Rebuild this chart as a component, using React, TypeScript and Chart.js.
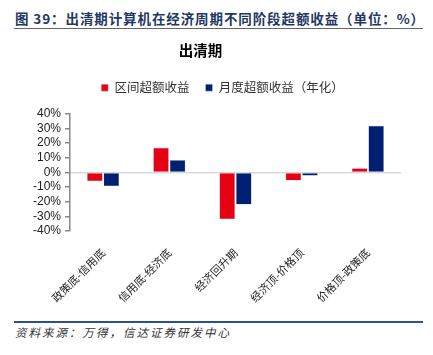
import React, { useEffect, useRef } from "react";
import { Chart, registerables } from "chart.js";

Chart.register(...registerables);

const categories = ["政策底-信用底", "信用底-经济底", "经济回升期", "经济顶-价格顶", "价格顶-政策底"];
const intervalExcess = [-6, 17, -32, -5.5, 3];
const monthlyExcess = [-9.5, 8.5, -22, -2.3, 32];
const yTicks = [40, 30, 20, 10, 0, -10, -20, -30, -40];

const RED = "#E60012";
const NAVY = "#002072";
const CJK = "'Noto Sans CJK SC', sans-serif";

const legendGap = {
  id: "legendGap",
  beforeInit(chart: any) {
    const orig = chart.legend.fit;
    chart.legend.fit = function () {
      orig.bind(this)();
      this.height += 10;
    };
  },
  afterLayout(chart: any) {
    chart.legend.left += 22;
    chart.legend.right += 22;
  },
};

export default function App() {
  const ref = useRef<HTMLCanvasElement>(null);
  useEffect(() => {
    const chart = new Chart(ref.current!, {
      type: "bar",
      data: {
        labels: categories,
        datasets: [
          { label: "区间超额收益", data: intervalExcess, backgroundColor: RED, borderColor: "rgba(200,210,240,0.8)", borderWidth: 0.6 },
          { label: "月度超额收益（年化）", data: monthlyExcess, backgroundColor: NAVY, borderColor: "rgba(200,210,240,0.8)", borderWidth: 0.6 },
        ],
      },
      plugins: [legendGap],
      options: {
        animation: false,
        responsive: false,
        maintainAspectRatio: false,
        layout: { padding: { left: 0, right: 32, top: 0, bottom: 0 } },
        plugins: {
          title: {
            display: true,
            text: "出清期",
            color: "#000",
            font: { family: CJK, size: 14.5, weight: "bold" },
            padding: { top: 4, bottom: 6 },
          },
          legend: {
            display: true,
            labels: {
              boxWidth: 7,
              boxHeight: 7,
              color: "#333",
              font: { family: CJK, size: 12.5 },
              padding: 16,
            },
          },
          tooltip: { enabled: false },
        },
        scales: {
          x: {
            grid: { display: false },
            border: { display: false },
            ticks: {
              color: "#222",
              font: { family: CJK, size: 11 },
              maxRotation: 45,
              minRotation: 45,
              padding: 7,
            },
            afterFit: (s: any) => { s.height = 87; },
          },
          y: {
            min: -40,
            max: 40,
            afterBuildTicks: (s: any) => { s.ticks = yTicks.map((v) => ({ value: v })); },
            ticks: {
              autoSkip: false,
              stepSize: 10,
              color: "#222",
              font: { family: "'Liberation Sans', Arial, sans-serif", size: 12 },
              padding: 4,
              callback: (v: any) => `${v}%`,
            },
            grid: {
              drawOnChartArea: true,
              color: (c: any) => (c.tick && c.tick.value === 0 ? "#d9d9d9" : "rgba(0,0,0,0)"),
              tickColor: "#888",
              tickLength: 5,
              lineWidth: 1.5,
            },
            border: { display: true, color: "#888", width: 1.5 },
            afterFit: (s: any) => { s.width = 70; },
          },
        },
        datasets: { bar: { categoryPercentage: 0.5, barPercentage: 0.96 } },
      } as any,
    });
    return () => chart.destroy();
  }, []);

  return (
    <div style={{ position: "absolute", left: 0, top: 0, width: 433, height: 355, background: "#fff", overflow: "hidden" }}>
      <div style={{ position: "absolute", left: 15, top: 8, fontFamily: CJK, fontWeight: "bold", fontSize: 13.5, color: "#1F3864", letterSpacing: 0.9, whiteSpace: "nowrap" }}>
        图 39：出清期计算机在经济周期不同阶段超额收益（单位：%）
      </div>
      <div style={{ position: "absolute", left: 14, top: 28, width: 409, height: 1, background: "#666" }} />
      <canvas ref={ref} width={433} height={280} style={{ position: "absolute", left: 0, top: 38, width: 433, height: 280 }} />
      <div style={{ position: "absolute", left: 14, top: 321, width: 409, height: 2, background: "#2F4F8F" }} />
      <div style={{ position: "absolute", left: 15, top: 324, fontFamily: CJK, fontStyle: "italic", fontSize: 11.5, color: "#333", letterSpacing: 2, whiteSpace: "nowrap" }}>
        资料来源：万得，信达证券研发中心
      </div>
    </div>
  );
}
